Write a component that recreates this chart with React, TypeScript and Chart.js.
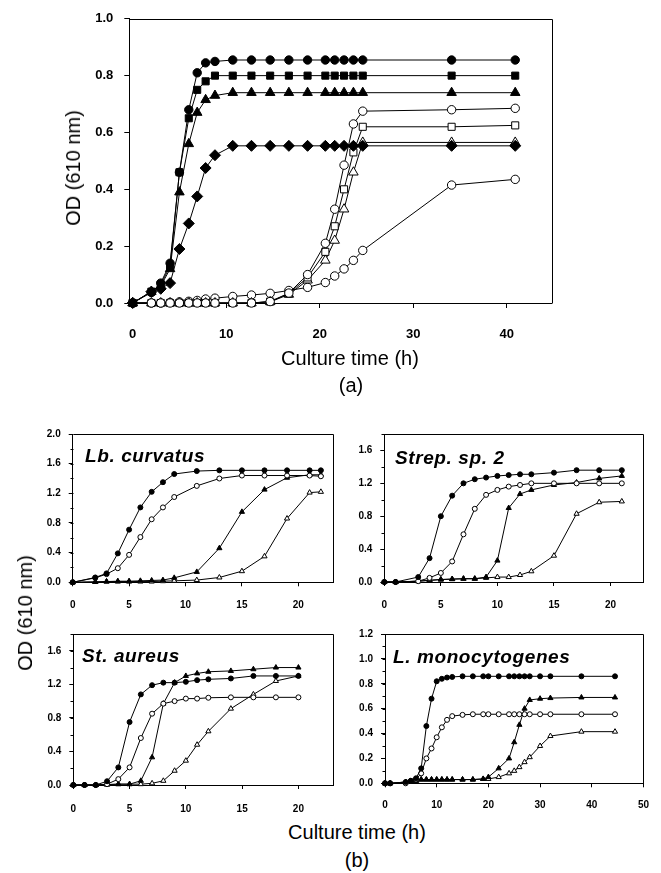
import React, { useEffect, useRef } from 'react';
import { Chart, registerables } from 'chart.js';

Chart.register(...registerables);

const FONT = '"Liberation Sans", Arial, Helvetica, sans-serif';

// ---------------- Panel (a) data ----------------
const TIME_A = [0, 2, 3, 4, 5, 6, 6.9, 7.8, 8.8, 10.7, 12.7, 14.7, 16.7, 18.7, 20.6, 21.6, 22.6, 23.6, 24.6, 34.1, 40.9];
const A_FILLED_CIRCLE = [0, 0.037, 0.07, 0.14, 0.46, 0.68, 0.81, 0.845, 0.85, 0.855, 0.855, 0.855, 0.855, 0.855, 0.855, 0.855, 0.855, 0.855, 0.855, 0.855, 0.855];
const A_FILLED_SQUARE = [0, 0.04, 0.065, 0.13, 0.46, 0.65, 0.75, 0.78, 0.8, 0.8, 0.8, 0.8, 0.8, 0.8, 0.8, 0.8, 0.8, 0.8, 0.8, 0.8, 0.8];
const A_FILLED_TRIANGLE = [0, 0.04, 0.06, 0.12, 0.39, 0.56, 0.67, 0.715, 0.73, 0.74, 0.74, 0.74, 0.74, 0.74, 0.74, 0.74, 0.74, 0.74, 0.74, 0.74, 0.74];
const A_FILLED_DIAMOND = [0, 0.04, 0.05, 0.07, 0.19, 0.28, 0.375, 0.475, 0.52, 0.553, 0.553, 0.553, 0.553, 0.553, 0.553, 0.553, 0.553, 0.553, 0.553, 0.553, 0.553];
const A_OPEN_CIRCLE_HIGH = [0, 0, 0, 0, 0, 0, 0, 0, 0, 0, 0, 0.005, 0.035, 0.1, 0.21, 0.33, 0.485, 0.63, 0.675, 0.68, 0.685];
const A_OPEN_SQUARE = [0, 0, 0, 0, 0, 0, 0, 0, 0, 0, 0, 0.005, 0.033, 0.09, 0.18, 0.27, 0.4, 0.53, 0.62, 0.62, 0.625];
const A_OPEN_TRIANGLE = [0, 0, 0, 0, 0, 0, 0, 0, 0, 0, 0, 0.004, 0.03, 0.08, 0.15, 0.22, 0.33, 0.46, 0.565, 0.565, 0.565];
const A_OPEN_CIRCLE_LOW = [0, 0, 0, 0.002, 0.004, 0.006, 0.009, 0.014, 0.017, 0.023, 0.028, 0.034, 0.044, 0.055, 0.072, 0.095, 0.12, 0.15, 0.185, 0.415, 0.435];
const A_X_TICKS = [0, 10, 20, 30, 40];
const A_Y_TICKS = [0, 0.2, 0.4, 0.6, 0.8, 1.0];

// ---------------- Panel (b) data ----------------
// Lb. curvatus
const TIME_LB = [0, 2, 3, 4, 5, 6, 7, 8, 9, 11, 13, 15, 17, 19, 21, 22];
const LB_FILLED_CIRCLE = [0, 0.065, 0.12, 0.39, 0.71, 1.01, 1.22, 1.35, 1.46, 1.5, 1.51, 1.51, 1.51, 1.51, 1.51, 1.51];
const LB_OPEN_CIRCLE = [0, 0.06, 0.11, 0.19, 0.37, 0.61, 0.85, 1.01, 1.15, 1.3, 1.4, 1.44, 1.44, 1.44, 1.44, 1.43];
const LB_FILLED_TRIANGLE = [0, 0.005, 0.01, 0.015, 0.015, 0.02, 0.025, 0.03, 0.06, 0.14, 0.46, 0.95, 1.25, 1.41, 1.45, 1.45];
const LB_OPEN_TRIANGLE = [0, 0.005, 0.01, 0.01, 0.01, 0.01, 0.01, 0.015, 0.02, 0.03, 0.065, 0.15, 0.35, 0.86, 1.21, 1.22];

// Strep. sp. 2
const TIME_ST2 = [0, 1, 3, 4, 5, 6, 7, 8, 9, 10, 11, 12, 13, 15, 17, 19, 21];
const ST2_FILLED_CIRCLE = [0, 0, 0.06, 0.29, 0.8, 1.05, 1.2, 1.25, 1.27, 1.29, 1.3, 1.31, 1.31, 1.33, 1.36, 1.36, 1.36];
const ST2_OPEN_CIRCLE = [0, 0, 0.01, 0.05, 0.11, 0.25, 0.58, 0.89, 1.06, 1.12, 1.16, 1.18, 1.2, 1.2, 1.2, 1.2, 1.2];
const ST2_FILLED_TRIANGLE = [0, 0, 0.01, 0.02, 0.03, 0.035, 0.04, 0.04, 0.06, 0.26, 0.9, 1.07, 1.12, 1.18, 1.21, 1.26, 1.29];
const ST2_OPEN_TRIANGLE = [0, 0, 0.01, 0.02, 0.03, 0.035, 0.04, 0.04, 0.05, 0.06, 0.06, 0.085, 0.13, 0.32, 0.83, 0.97, 0.98];

// St. aureus
const TIME_SA = [0, 1, 2, 3, 4, 5, 6, 7, 8, 9, 10, 11, 12, 14, 16, 18, 20];
const SA_FILLED_CIRCLE = [0, 0, 0, 0.045, 0.21, 0.75, 1.08, 1.19, 1.22, 1.22, 1.23, 1.25, 1.26, 1.27, 1.3, 1.3, 1.3];
const SA_OPEN_CIRCLE = [0, 0, 0, 0.01, 0.07, 0.21, 0.56, 0.85, 0.97, 1.0, 1.03, 1.03, 1.04, 1.045, 1.045, 1.045, 1.045];
const SA_FILLED_TRIANGLE = [0, 0, 0, 0.005, 0.01, 0.01, 0.05, 0.33, 0.97, 1.22, 1.3, 1.33, 1.35, 1.36, 1.38, 1.4, 1.4];
const SA_OPEN_TRIANGLE = [0, 0, 0, 0.005, 0.01, 0.01, 0.01, 0.02, 0.05, 0.17, 0.29, 0.48, 0.64, 0.91, 1.08, 1.24, 1.3];

// L. monocytogenes
const TIME_LM = [0, 1, 4, 5, 6, 7, 8, 9, 10, 11, 12, 13, 15, 17, 19, 20, 22, 24, 25, 26, 27, 28, 30, 32, 38, 44.5];
const LM_FILLED_CIRCLE = [0, 0, 0.01, 0.02, 0.04, 0.12, 0.46, 0.68, 0.82, 0.84, 0.85, 0.855, 0.86, 0.86, 0.86, 0.86, 0.86, 0.86, 0.86, 0.86, 0.86, 0.86, 0.86, 0.86, 0.86, 0.86];
const LM_OPEN_CIRCLE = [0, 0, 0, 0.02, 0.03, 0.08, 0.2, 0.28, 0.37, 0.45, 0.51, 0.54, 0.55, 0.555, 0.555, 0.555, 0.555, 0.555, 0.555, 0.555, 0.555, 0.555, 0.555, 0.555, 0.555, 0.555];
const LM_FILLED_TRIANGLE = [0, 0, 0.01, 0.015, 0.02, 0.03, 0.03, 0.03, 0.03, 0.03, 0.03, 0.03, 0.03, 0.03, 0.035, 0.05, 0.12, 0.2, 0.33, 0.47, 0.6, 0.67, 0.68, 0.685, 0.69, 0.69];
const LM_OPEN_TRIANGLE = [0, 0, 0.01, 0.015, 0.02, 0.03, 0.03, 0.03, 0.03, 0.03, 0.03, 0.03, 0.03, 0.03, 0.035, 0.035, 0.05, 0.08, 0.1, 0.13, 0.17, 0.21, 0.3, 0.38, 0.415, 0.415];

const B_X_TICKS_20 = [0, 5, 10, 15, 20];
const B_X_TICKS_50 = [0, 10, 20, 30, 40, 50];
const B_Y_TICKS_20 = [0, 0.4, 0.8, 1.2, 1.6, 2.0];
const B_Y_TICKS_18 = [0, 0.4, 0.8, 1.2, 1.6];
const B_Y_TICKS_12 = [0, 0.2, 0.4, 0.6, 0.8, 1.0, 1.2];

// ---------------- helpers ----------------
type Marker = { style: string; filled: boolean; r: number };

function buildDatasets(times: number[], ys: number[][], markers: Marker[]) {
  return ys.map((arr, i) => {
    const m = markers[i];
    return {
      data: arr.map((v, k) => ({ x: times[k], y: v })),
      borderColor: '#000',
      borderWidth: 1,
      pointStyle: m.style,
      pointRadius: m.r,
      pointHoverRadius: m.r,
      pointBackgroundColor: m.filled ? '#000' : '#fff',
      pointBorderColor: '#000',
      pointBorderWidth: 1,
      tension: 0,
      clip: false as any,
      fill: false,
    };
  });
}

const framePlugin = {
  id: 'frame',
  afterDraw(chart: any, _args: any, opts: any) {
    const { ctx, chartArea: a } = chart;
    ctx.save();
    ctx.strokeStyle = '#000';
    ctx.lineWidth = 1;
    const l = Math.round(a.left) + 0.5;
    const t = Math.round(a.top) + 0.5;
    const r = Math.round(a.right) + 0.5;
    const b = Math.round(a.bottom) + 0.5;
    ctx.beginPath();
    ctx.moveTo(l, t);
    ctx.lineTo(r, t);
    ctx.lineTo(r, b);
    ctx.stroke();
    if (opts && opts.minorY) {
      const s = chart.scales.y;
      const n = Math.round((s.max - s.min) / opts.minorY);
      for (let i = 0; i <= n; i++) {
        const v = s.min + i * opts.minorY;
        const py = Math.round(s.getPixelForValue(v)) + 0.5;
        ctx.beginPath();
        ctx.moveTo(l - 3, py);
        ctx.lineTo(l, py);
        ctx.stroke();
      }
    }
    ctx.restore();
  },
};

type PanelCfg = {
  width: number;
  height: number;
  yWidth: number;
  xHeight: number;
  padTop: number;
  padRight: number;
  xMin: number;
  xMax: number;
  yMax: number;
  xTicks: number[];
  yTicks: number[];
  tickFont: number;
  tickLen: number;
  xPad: number;
  yPad: number;
  minorY?: number;
  datasets: any[];
};

function makeConfig(p: PanelCfg): any {
  const tickFont = { family: FONT, size: p.tickFont, weight: 'bold' as const };
  const grid = { display: true, drawOnChartArea: false, drawTicks: true, tickLength: p.tickLen, color: '#000', lineWidth: 1 };
  const border = { display: true, color: '#000', width: 1 };
  return {
    type: 'line',
    data: { datasets: p.datasets },
    plugins: [framePlugin],
    options: {
      animation: false,
      responsive: false,
      maintainAspectRatio: false,
      events: [],
      layout: { padding: { top: p.padTop, right: p.padRight, left: 0, bottom: 0 } },
      plugins: {
        legend: { display: false },
        tooltip: { enabled: false },
        title: { display: false },
        frame: { minorY: p.minorY },
      },
      scales: {
        x: {
          type: 'linear',
          position: 'bottom',
          min: p.xMin,
          max: p.xMax,
          afterBuildTicks: (s: any) => { s.ticks = p.xTicks.map((v) => ({ value: v })); },
          afterFit: (s: any) => { s.height = p.xHeight; },
          grid,
          border,
          ticks: { font: tickFont, color: '#000', padding: p.xPad, maxRotation: 0, autoSkip: false, callback: (v: any) => String(v) },
        },
        y: {
          type: 'linear',
          position: 'left',
          min: 0,
          max: p.yMax,
          afterBuildTicks: (s: any) => { s.ticks = p.yTicks.map((v) => ({ value: v })); },
          afterFit: (s: any) => { s.width = p.yWidth; },
          grid,
          border,
          ticks: { font: tickFont, color: '#000', padding: p.yPad, autoSkip: false, callback: (v: any) => Number(v).toFixed(1) },
        },
      },
    },
  };
}

function ChartCanvas({ left, top, cfg }: { left: number; top: number; cfg: PanelCfg }) {
  const ref = useRef<HTMLCanvasElement>(null);
  useEffect(() => {
    const chart = new Chart(ref.current as HTMLCanvasElement, makeConfig(cfg));
    return () => chart.destroy();
  }, []);
  return (
    <canvas
      ref={ref}
      width={cfg.width}
      height={cfg.height}
      style={{ position: 'absolute', left, top, width: cfg.width, height: cfg.height }}
    />
  );
}

function Text({ x, y, children, size, rotate, weight, italic }: any) {
  return (
    <div
      style={{
        position: 'absolute',
        left: x,
        top: y,
        transform: `translate(-50%, -50%)${rotate ? ' rotate(-90deg)' : ''}`,
        whiteSpace: 'nowrap',
        fontFamily: FONT,
        fontSize: size,
        lineHeight: 1,
        fontWeight: weight || 'normal',
        fontStyle: italic ? 'italic' : 'normal',
        color: '#000',
      }}
    >
      {children}
    </div>
  );
}

function PanelTitle({ x, y, children }: any) {
  return (
    <div
      style={{
        position: 'absolute',
        left: x,
        top: y,
        transform: 'translateY(-50%)',
        whiteSpace: 'nowrap',
        fontFamily: FONT,
        fontSize: 19,
        lineHeight: 1,
        fontWeight: 'bold',
        fontStyle: 'italic',
        letterSpacing: 0.6,
        color: '#000',
      }}
    >
      {children}
    </div>
  );
}

// marker styles
const A_MARKERS: Marker[] = [
  { style: 'circle', filled: true, r: 4.2 },
  { style: 'rect', filled: true, r: 5 },
  { style: 'triangle', filled: true, r: 5.5 },
  { style: 'rectRot', filled: true, r: 5.5 },
  { style: 'circle', filled: false, r: 4.2 },
  { style: 'rect', filled: false, r: 5 },
  { style: 'triangle', filled: false, r: 5.5 },
  { style: 'circle', filled: false, r: 4.2 },
];
const B_MARKERS: Marker[] = [
  { style: 'circle', filled: true, r: 2.5 },
  { style: 'circle', filled: false, r: 2.5 },
  { style: 'triangle', filled: true, r: 3 },
  { style: 'triangle', filled: false, r: 3 },
];

const CFG_A: PanelCfg = {
  width: 661, height: 400, yWidth: 129.3, xHeight: 97, padTop: 12.7, padRight: 109.3,
  xMin: -0.36, xMax: 44.8, yMax: 1.0, xTicks: A_X_TICKS, yTicks: A_Y_TICKS,
  tickFont: 13, tickLen: 5, xPad: 19, yPad: 11,
  datasets: buildDatasets(TIME_A, [A_FILLED_CIRCLE, A_FILLED_SQUARE, A_FILLED_TRIANGLE, A_FILLED_DIAMOND, A_OPEN_CIRCLE_HIGH, A_OPEN_SQUARE, A_OPEN_TRIANGLE, A_OPEN_CIRCLE_LOW], A_MARKERS),
};

const CFG_LB: PanelCfg = {
  width: 340, height: 200, yWidth: 72.7, xHeight: 37.7, padTop: 9.3, padRight: 6.7,
  xMin: 0, xMax: 23.1, yMax: 2.0, xTicks: B_X_TICKS_20, yTicks: B_Y_TICKS_20,
  tickFont: 10, tickLen: 4, xPad: 13, yPad: 8, minorY: 0.2,
  datasets: buildDatasets(TIME_LB, [LB_FILLED_CIRCLE, LB_OPEN_CIRCLE, LB_FILLED_TRIANGLE, LB_OPEN_TRIANGLE], B_MARKERS),
};

const CFG_ST2: PanelCfg = {
  width: 321, height: 200, yWidth: 44.3, xHeight: 38, padTop: 9, padRight: 17.7,
  xMin: 0, xMax: 22.9, yMax: 1.8, xTicks: B_X_TICKS_20, yTicks: B_Y_TICKS_18,
  tickFont: 10, tickLen: 4, xPad: 13, yPad: 8, minorY: 0.2,
  datasets: buildDatasets(TIME_ST2, [ST2_FILLED_CIRCLE, ST2_OPEN_CIRCLE, ST2_FILLED_TRIANGLE, ST2_OPEN_TRIANGLE], B_MARKERS),
};

const CFG_SA: PanelCfg = {
  width: 340, height: 200, yWidth: 73.3, xHeight: 35, padTop: 11.7, padRight: 6.7,
  xMin: 0, xMax: 23.1, yMax: 1.8, xTicks: B_X_TICKS_20, yTicks: B_Y_TICKS_18,
  tickFont: 10, tickLen: 4, xPad: 14, yPad: 8, minorY: 0.2,
  datasets: buildDatasets(TIME_SA, [SA_FILLED_CIRCLE, SA_OPEN_CIRCLE, SA_FILLED_TRIANGLE, SA_OPEN_TRIANGLE], B_MARKERS),
};

const CFG_LM: PanelCfg = {
  width: 321, height: 200, yWidth: 45, xHeight: 36.7, padTop: 11.5, padRight: 16,
  xMin: 0, xMax: 50, yMax: 1.2, xTicks: B_X_TICKS_50, yTicks: B_Y_TICKS_12,
  tickFont: 10, tickLen: 4, xPad: 12, yPad: 8, minorY: 0.1,
  datasets: buildDatasets(TIME_LM, [LM_FILLED_CIRCLE, LM_OPEN_CIRCLE, LM_FILLED_TRIANGLE, LM_OPEN_TRIANGLE], B_MARKERS),
};

export default function App() {
  return (
    <div style={{ position: 'absolute', left: 0, top: 0, width: 661, height: 873, background: '#fff', overflow: 'hidden' }}>
      <ChartCanvas left={0} top={0} cfg={CFG_A} />
      <ChartCanvas left={0} top={420} cfg={CFG_LB} />
      <ChartCanvas left={340} top={420} cfg={CFG_ST2} />
      <ChartCanvas left={0} top={620} cfg={CFG_SA} />
      <ChartCanvas left={340} top={620} cfg={CFG_LM} />

      <Text x={73} y={168} size={20} rotate>OD (610 nm)</Text>
      <Text x={350} y={358} size={20}>Culture time (h)</Text>
      <Text x={351} y={385} size={20}>(a)</Text>

      <PanelTitle x={85} y={455}>Lb. curvatus</PanelTitle>
      <PanelTitle x={395} y={456.5}>Strep. sp. 2</PanelTitle>
      <PanelTitle x={82} y={655}>St. aureus</PanelTitle>
      <PanelTitle x={393} y={655.5}>L. monocytogenes</PanelTitle>

      <Text x={25} y={613} size={20} rotate>OD (610 nm)</Text>
      <Text x={357} y={832} size={20}>Culture time (h)</Text>
      <Text x={357} y={860} size={20}>(b)</Text>
    </div>
  );
}
